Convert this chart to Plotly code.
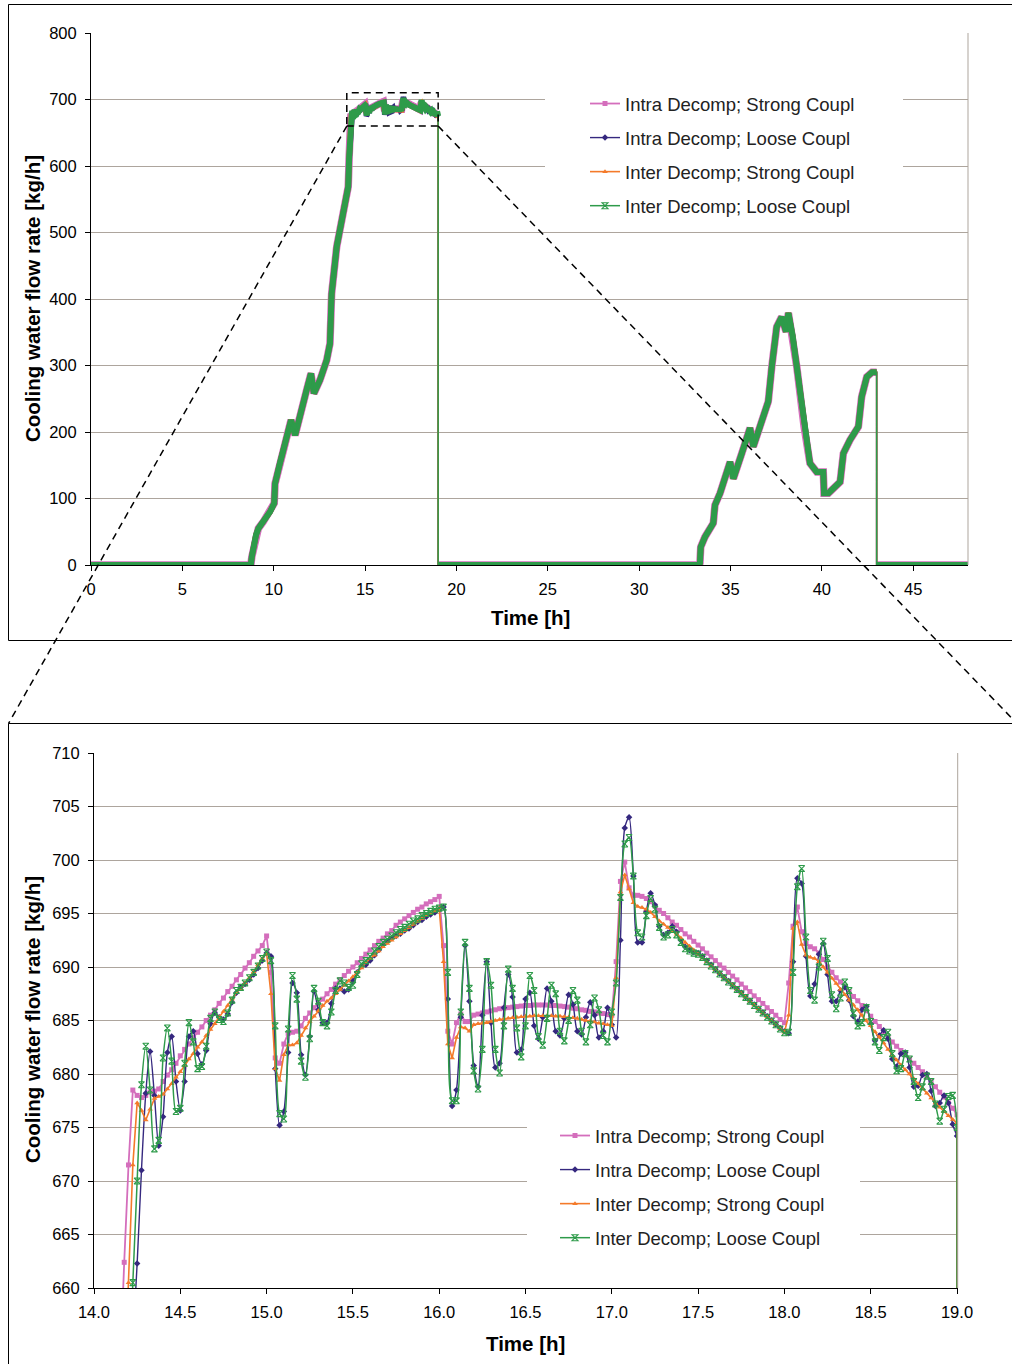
import plotly.graph_objects as go

W, H = 1012, 1364
FONT = "Liberation Sans, Arial, sans-serif"
GRID = "#ADA59D"

# ---------------- data ----------------
# detailed window 14.15 h .. 19.0 h, simulation output every DT hours
T0 = 14.15
DT = 0.025

INTRA_STRONG = [
    652.0, 662.4, 671.5, 678.5, 678.0, 677.8, 678.0, 678.3, 678.4, 678.6,
    679.3, 679.9, 680.4, 681.0, 681.7, 682.3, 682.8, 683.4, 683.9, 684.4,
    685.0, 685.5, 686.0, 686.6, 687.1, 687.7, 688.2, 688.8, 689.3, 689.9,
    690.4, 691.0, 691.5, 692.0, 692.9, 689.5, 681.5, 681.0, 682.8, 683.8,
    683.9, 684.0, 684.5, 685.2, 685.7, 686.2, 686.6, 687.0, 687.5, 687.9,
    688.4, 688.8, 689.2, 689.6, 690.0, 690.4, 690.8, 691.2, 691.6, 692.0,
    692.4, 692.7, 693.1, 693.4, 693.9, 694.2, 694.5, 694.8, 695.1, 695.4,
    695.6, 695.9, 696.1, 696.3, 696.6, 692.0, 684.0, 682.8, 684.8, 685.6,
    684.9, 684.9, 685.5, 685.6, 685.7, 685.8, 685.9, 686.0, 686.1, 686.15,
    686.2, 686.25, 686.3, 686.35, 686.4, 686.4, 686.45, 686.45, 686.45, 686.45,
    686.4, 686.4, 686.35, 686.3, 686.25, 686.15, 686.1, 686.0, 685.95, 685.85,
    685.8, 685.7, 685.65, 685.55, 685.5, 690.5, 698.0, 699.8, 697.4, 696.7,
    696.7, 696.6, 696.4, 696.1, 695.7, 695.3, 695.0, 694.6, 694.2, 693.9,
    693.5, 693.1, 692.8, 692.4, 692.05, 691.7, 691.3, 690.95, 690.6, 690.2,
    689.9, 689.5, 689.15, 688.8, 688.4, 688.05, 687.7, 687.3, 686.95, 686.6,
    686.2, 685.85, 685.5, 685.1, 684.8, 688.5, 693.8, 695.6, 693.3, 692.2,
    691.9, 691.7, 691.3, 690.7, 690.0, 689.5, 689.0, 688.6, 688.1, 687.7,
    687.25, 686.85, 686.4, 685.9, 685.4, 684.9, 684.45, 683.95, 683.45, 683.0,
    682.6, 682.2, 681.8, 681.4, 681.0, 680.6, 680.2, 679.75, 679.3, 678.8,
    678.3, 677.85, 677.3, 676.8, 676.2,
]

INTRA_LOOSE = [
    630.0, 640.0, 648.0, 655.0, 662.3, 671.0, 678.2, 682.1, 678.0, 673.3,
    676.0, 682.0, 683.5, 679.3, 676.6, 679.3, 683.5, 684.0, 681.9, 680.9,
    682.2, 684.7, 685.7, 685.3, 685.1, 685.6, 686.7, 687.6, 688.1, 688.4,
    688.8, 689.3, 689.9, 690.6, 691.3, 691.0, 680.5, 675.2, 676.5, 682.0,
    688.5, 687.6, 681.8, 679.9, 683.5, 687.7, 686.0, 684.8, 684.8, 686.6,
    688.0, 688.0, 687.7, 687.9, 688.7, 689.5, 690.1, 690.2, 690.6, 691.1,
    691.6, 692.1, 692.4, 692.7, 692.9, 693.1, 693.4, 693.6, 693.9, 694.2,
    694.4, 694.7, 694.9, 695.1, 695.4, 695.6, 687.0, 677.0, 678.5, 685.3,
    692.0, 686.8, 680.8, 678.8, 685.5, 690.5, 684.8, 680.6, 681.0, 686.2,
    689.3, 687.2, 682.0, 682.3, 687.0, 687.6, 684.5, 683.3, 685.3, 688.0,
    686.8, 684.0, 683.6, 685.2, 687.4, 686.5, 684.0, 683.7, 685.3, 686.7,
    685.5, 683.4, 684.0, 686.2, 684.6, 683.4, 692.5, 703.0, 704.0, 698.5,
    692.3, 692.3, 695.2, 696.9, 695.8, 693.8, 693.0, 693.2, 693.8, 693.3,
    692.5, 691.9, 691.6, 691.4, 691.3, 691.0, 690.6, 690.2, 689.8, 689.4,
    689.05, 688.7, 688.3, 687.95, 687.6, 687.2, 686.85, 686.5, 686.1, 685.75,
    685.4, 685.0, 684.65, 684.3, 684.0, 683.8, 690.5, 698.3, 697.8, 691.0,
    687.3, 688.4, 691.2, 692.2, 689.3, 686.8, 686.8, 687.8, 688.1, 686.9,
    685.4, 684.9, 686.0, 686.3, 684.7, 683.1, 683.6, 684.1, 683.3, 681.4,
    680.7, 681.9, 682.0, 680.6, 678.8, 678.9, 679.9, 680.0, 678.4, 677.0,
    677.3, 678.0, 677.3, 675.3, 674.2,
]

INTER_STRONG = [
    640.0, 650.0, 660.5, 671.5, 677.3, 676.6, 675.7, 676.7, 677.7, 677.9,
    678.1, 678.6, 679.1, 679.7, 680.2, 680.8, 681.4, 681.9, 682.5, 683.0,
    683.6, 684.15, 684.7, 685.3, 685.85, 686.4, 687.0, 687.6, 688.0, 688.5,
    689.0, 689.55, 690.2, 690.8, 691.3, 687.5, 680.5, 679.4, 681.8, 682.7,
    682.7, 682.9, 683.6, 684.3, 684.9, 685.4, 685.9, 686.4, 686.8, 687.1,
    687.5, 687.9, 688.3, 688.7, 689.1, 689.5, 689.9, 690.4, 690.8, 691.1,
    691.5, 691.9, 692.2, 692.5, 692.8, 693.1, 693.4, 693.7, 694.0, 694.25,
    694.5, 694.8, 695.0, 695.25, 695.5, 690.5, 682.8, 681.5, 683.4, 684.4,
    684.3, 684.0, 684.6, 684.7, 684.75, 684.8, 684.9, 685.0, 685.1, 685.15,
    685.2, 685.25, 685.3, 685.35, 685.4, 685.4, 685.45, 685.45, 685.45, 685.45,
    685.45, 685.4, 685.4, 685.35, 685.3, 685.25, 685.2, 685.1, 685.0, 684.95,
    684.85, 684.75, 684.7, 684.6, 684.5, 689.0, 697.0, 698.6, 697.3, 696.0,
    695.65, 695.55, 695.4, 695.1, 694.7, 694.3, 694.0, 693.7, 693.4, 693.05,
    692.7, 692.3, 691.95, 691.6, 691.2, 690.85, 690.5, 690.1, 689.75, 689.4,
    689.0, 688.65, 688.3, 687.9, 687.55, 687.2, 686.8, 686.45, 686.1, 685.7,
    685.35, 685.0, 684.6, 684.25, 683.9, 685.5, 693.6, 694.2, 692.1, 691.1,
    690.9, 690.8, 690.5, 690.0, 689.5, 688.95, 688.45, 687.9, 687.4, 686.9,
    686.45, 686.0, 685.5, 685.0, 684.5, 683.95, 683.45, 682.9, 682.3, 681.75,
    681.3, 680.85, 680.4, 680.0, 679.55, 679.1, 678.65, 678.2, 677.75, 677.3,
    676.9, 676.5, 676.1, 675.75, 675.4,
]

INTER_LOOSE = [
    635.0, 643.0, 651.0, 660.5, 670.0, 679.0, 682.6, 678.5, 673.0, 673.8,
    681.5, 684.3, 681.2, 676.5, 676.8, 681.0, 684.8, 683.0, 680.5, 680.7,
    682.6, 685.2, 685.8, 685.1, 684.9, 685.7, 686.9, 687.8, 688.1, 688.5,
    689.0, 689.5, 690.1, 690.8, 691.4, 690.6, 684.5, 676.3, 675.8, 684.2,
    689.2, 687.0, 681.2, 679.7, 683.3, 688.0, 686.8, 684.8, 684.5, 685.8,
    687.8, 688.7, 688.5, 688.1, 688.3, 689.3, 690.3, 690.6, 691.0, 691.5,
    691.9, 692.3, 692.6, 692.9, 693.2, 693.5, 693.7, 694.0, 694.3, 694.5,
    694.8, 695.0, 695.2, 695.4, 695.5, 695.6, 689.5, 677.5, 677.5, 685.8,
    692.3, 688.0, 680.3, 678.6, 682.3, 690.5, 688.3, 682.3, 680.1, 684.5,
    689.8, 688.0, 684.3, 681.6, 684.5, 689.2, 687.8, 683.5, 682.7, 685.2,
    688.3, 687.5, 684.0, 683.1, 685.0, 687.8, 686.9, 684.0, 683.0, 684.6,
    687.1, 686.0, 683.6, 683.0, 685.8, 688.5, 696.5, 701.5, 702.1, 698.5,
    693.2, 692.8, 694.8, 696.4, 695.4, 693.7, 692.8, 693.0, 693.5, 693.0,
    692.3, 691.7, 691.5, 691.3, 691.2, 690.9, 690.5, 690.1, 689.75, 689.35,
    689.0, 688.6, 688.25, 687.9, 687.5, 687.15, 686.8, 686.4, 686.05, 685.7,
    685.3, 684.95, 684.6, 684.2, 683.85, 683.9, 689.5, 697.5, 699.2, 692.8,
    687.8, 686.9, 690.0, 692.4, 690.8, 687.4, 686.1, 687.1, 688.6, 687.8,
    685.7, 684.5, 684.8, 686.2, 684.9, 683.0, 682.2, 683.4, 683.9, 681.9,
    680.3, 680.5, 681.9, 681.4, 679.3, 677.8, 678.8, 679.8, 679.3, 677.2,
    675.6, 676.7, 677.9, 678.0, 675.0,
]

# overview profile before the detailed window (all four runs coincide here)
OV1_T = [0.0, 8.75, 8.80, 8.88, 9.03, 9.16, 9.43, 9.80, 10.03, 10.07, 10.34, 10.71,
         10.95, 11.17, 11.44, 11.80, 12.04, 12.20, 12.53, 12.90, 13.08, 13.17, 13.45,
         13.81, 14.08, 14.125]
OV1_V = [0, 0, 12, 25, 45, 55, 65, 80, 93, 122, 153, 188,
         218, 195, 228, 263, 288, 258, 278, 308, 333, 408, 479,
         534, 569, 610]

# overview profile after the detailed window (shutdown at 19 h, second period)
OV2_T = [19.0, 33.25, 33.33, 33.37, 33.6, 34.06, 34.15, 34.43, 34.98, 35.16, 35.62,
         36.07, 36.25, 36.6, 37.07, 37.26, 37.53, 37.8, 38.04, 38.17, 38.4, 38.63,
         39.03, 39.35, 39.72, 40.08, 40.12, 40.36, 41.0, 41.18, 41.54, 42.0, 42.18,
         42.46, 42.75, 43.0, 43.0, 48.0]
OV2_V = [0, 0, 3, 27, 42, 63, 90, 108, 155, 130, 168,
         206, 178, 207, 246, 298, 358, 373, 351, 379, 345, 298,
         208, 153, 140, 140, 108, 108, 125, 168, 188, 208, 253,
         283, 290, 290, 0, 0]

NAMES = ["Intra Decomp; Strong Coupl", "Intra Decomp; Loose Coupl",
         "Inter Decomp; Strong Coupl", "Inter Decomp; Loose Coupl"]
SERIES = [INTRA_STRONG, INTRA_LOOSE, INTER_STRONG, INTER_LOOSE]

TOP_X_RANGE = [0, 48]
TOP_Y_RANGE = [0, 800]
BOT_X_RANGE = [14.0, 19.004]
BOT_Y_RANGE = [660, 710]
ZOOM_BOX = [14.0, 19.0, 660, 710]

# ---------------- styles ----------------
COLORS = ["#D46EBC", "#35287F", "#F47A2A", "#2E9B4A"]
MARKERS = [
    dict(symbol="square", size=5, color=COLORS[0]),
    dict(symbol="diamond", size=5, color=COLORS[1]),
    dict(symbol="triangle-up", size=5, color=COLORS[2]),
    dict(symbol="hourglass-open", size=6, color=COLORS[3], line=dict(width=1.1, color=COLORS[3])),
]
LINE_W = [1.8, 1.4, 1.6, 1.5]
LINE_SHAPE = ["linear", "spline", "linear", "spline"]
BAND_W = [7.5, 5.5, 5.5, 6.0]

T_DET = [round(T0 + DT * i, 4) for i in range(len(INTRA_STRONG))]
for s in SERIES:
    assert len(s) == len(T_DET), len(s)


def full(series):
    return OV1_T + T_DET + OV2_T, OV1_V + list(series) + OV2_V


def with_breaks(t, v):
    bt, bv = [], []
    for i in range(len(t)):
        if i > 0 and t[i] == t[i - 1] and abs(v[i] - v[i - 1]) > 100:
            bt.append(None)
            bv.append(None)
        bt.append(t[i])
        bv.append(v[i])
    return bt, bv


def px(x):
    return x / W


def py(y):
    return 1 - y / H


# plot-area pixel boxes
TOP_BOX = (91, 968, 33, 565)       # left, right, top, bottom
BOT_BOX = (94, 957.7, 753, 1288)

fig = go.Figure()

# ---- top overview chart ----
for k in range(4):
    t, v = full(SERIES[k])
    bt, bv = with_breaks(t, v)
    fig.add_trace(go.Scatter(x=bt, y=bv, mode="lines", connectgaps=False,
                             line=dict(color=COLORS[k], width=BAND_W[k]),
                             xaxis="x", yaxis="y", showlegend=False, hoverinfo="skip"))
    fig.add_trace(go.Scatter(x=t, y=v, mode="lines",
                             line=dict(color=COLORS[k], width=1.5),
                             xaxis="x", yaxis="y", showlegend=False, hoverinfo="skip"))
for k in range(4):
    fig.add_trace(go.Scatter(x=[None], y=[None], mode="lines+markers", name=NAMES[k],
                             line=dict(color=COLORS[k], width=LINE_W[k]), marker=MARKERS[k],
                             xaxis="x", yaxis="y", legend="legend", legendgroup=f"top{k}"))

# ---- bottom detail chart ----
for k in range(4):
    t, v = full(SERIES[k])
    bt, bv = with_breaks(t, v)
    fig.add_trace(go.Scatter(x=bt, y=bv, mode="lines+markers", name=NAMES[k],
                             connectgaps=False,
                             line=dict(color=COLORS[k], width=LINE_W[k],
                                       shape=LINE_SHAPE[k], smoothing=0.8),
                             marker=MARKERS[k],
                             xaxis="x2", yaxis="y2", legend="legend2", legendgroup=f"bot{k}"))
    # shutdown drop at the end of the window
    fig.add_trace(go.Scatter(x=[T_DET[-1], OV2_T[0]], y=[SERIES[k][-1], OV2_V[0]],
                             mode="lines", line=dict(color=COLORS[k], width=LINE_W[k]),
                             xaxis="x2", yaxis="y2", showlegend=False, hoverinfo="skip"))

AX = dict(showline=True, linecolor="black", linewidth=1, ticks="outside", ticklen=5,
          tickwidth=1, tickcolor="black", zeroline=False, fixedrange=True, automargin=False,
          tickfont=dict(family=FONT, size=16.5, color="black"))

bot_ticks = [14.0 + 0.5 * i for i in range(11)]
LEG_FONT = dict(family=FONT, size=18.5, color="#222222")

fig.update_layout(
    width=W, height=H, autosize=False,
    margin=dict(l=0, r=0, t=0, b=0, pad=0, autoexpand=False),
    paper_bgcolor="white", plot_bgcolor="white",
    font=dict(family=FONT, size=16, color="black"),
    xaxis=dict(**AX, domain=[px(TOP_BOX[0]), px(TOP_BOX[1])], range=TOP_X_RANGE,
               tick0=0, dtick=5, showgrid=False, anchor="y", layer="below traces",
               ticklabelstandoff=4),
    yaxis=dict(**AX, domain=[py(TOP_BOX[3]), py(TOP_BOX[2])], range=TOP_Y_RANGE,
               tick0=0, dtick=100, showgrid=True, gridcolor=GRID, gridwidth=1,
               anchor="x", ticklabelstandoff=5),
    xaxis2=dict(**AX, domain=[px(BOT_BOX[0]), px(BOT_BOX[1])], range=BOT_X_RANGE,
                tickvals=bot_ticks, ticktext=[f"{v:.1f}" for v in bot_ticks],
                showgrid=False, anchor="y2", layer="below traces", ticklabelstandoff=4),
    yaxis2=dict(**AX, domain=[py(BOT_BOX[3]), py(BOT_BOX[2])], range=BOT_Y_RANGE,
                tick0=660, dtick=5, showgrid=True, gridcolor=GRID, gridwidth=1,
                anchor="x2", ticklabelstandoff=5),
    legend=dict(x=px(585), y=py(85), xanchor="left", yanchor="top", bgcolor="white",
                borderwidth=0, tracegroupgap=7, itemwidth=30, font=LEG_FONT),
    legend2=dict(x=px(555), y=py(1117), xanchor="left", yanchor="top", bgcolor="white",
                 borderwidth=0, tracegroupgap=7, itemwidth=30, font=LEG_FONT),
    showlegend=True,
)


def top_data_to_paper(t, v):
    x0, x1, yt, yb = TOP_BOX
    xp = x0 + (t - TOP_X_RANGE[0]) / (TOP_X_RANGE[1] - TOP_X_RANGE[0]) * (x1 - x0)
    yp = yb - (v - TOP_Y_RANGE[0]) / (TOP_Y_RANGE[1] - TOP_Y_RANGE[0]) * (yb - yt)
    return xp, yp


def top_px_to_data(xp, yp):
    x0, x1, yt, yb = TOP_BOX
    t = TOP_X_RANGE[0] + (xp - x0) / (x1 - x0) * (TOP_X_RANGE[1] - TOP_X_RANGE[0])
    v = TOP_Y_RANGE[0] + (yb - yp) / (yb - yt) * (TOP_Y_RANGE[1] - TOP_Y_RANGE[0])
    return t, v


def bot_px_to_data(xp, yp):
    x0, x1, yt, yb = BOT_BOX
    t = BOT_X_RANGE[0] + (xp - x0) / (x1 - x0) * (BOT_X_RANGE[1] - BOT_X_RANGE[0])
    v = BOT_Y_RANGE[0] + (yb - yp) / (yb - yt) * (BOT_Y_RANGE[1] - BOT_Y_RANGE[0])
    return t, v


shapes = []
# white boxes behind the legends (hide gridlines, below traces)
a = top_px_to_data(545, 84)
b = top_px_to_data(903, 226)
shapes.append(dict(type="rect", xref="x", yref="y", x0=a[0], y0=b[1], x1=b[0], y1=a[1],
                   fillcolor="white", line=dict(width=0), layer="between"))
a = bot_px_to_data(527, 1110)
b = bot_px_to_data(860, 1262)
shapes.append(dict(type="rect", xref="x2", yref="y2", x0=a[0], y0=b[1], x1=b[0], y1=a[1],
                   fillcolor="white", line=dict(width=0), layer="between"))

# right borders of plot areas
for (l, r, t_, b_) in (TOP_BOX, BOT_BOX):
    shapes.append(dict(type="line", xref="paper", yref="paper", x0=px(r), x1=px(r),
                       y0=py(t_), y1=py(b_), line=dict(color=GRID, width=1)))

# chart-area frames
shapes.append(dict(type="rect", xref="paper", yref="paper", x0=px(8.5), x1=px(1018),
                   y0=py(640.5), y1=py(4.5), line=dict(color="black", width=1)))
shapes.append(dict(type="rect", xref="paper", yref="paper", x0=px(8.5), x1=px(1018),
                   y0=py(1372), y1=py(723.5), line=dict(color="black", width=1)))

# zoom box and connecting dashed lines
DASH = "7px,5px"
shapes.append(dict(type="rect", xref="x", yref="y", x0=ZOOM_BOX[0], x1=ZOOM_BOX[1],
                   y0=ZOOM_BOX[2], y1=ZOOM_BOX[3], line=dict(color="black", width=1.5, dash=DASH)))
bl = top_data_to_paper(ZOOM_BOX[0], ZOOM_BOX[2])
br = top_data_to_paper(ZOOM_BOX[1], ZOOM_BOX[2])
shapes.append(dict(type="line", xref="paper", yref="paper", x0=px(bl[0]), y0=py(bl[1]),
                   x1=px(8.5), y1=py(723.5), line=dict(color="black", width=1.5, dash=DASH)))
shapes.append(dict(type="line", xref="paper", yref="paper", x0=px(br[0]), y0=py(br[1]),
                   x1=px(1017), y1=py(723.5), line=dict(color="black", width=1.5, dash=DASH)))

fig.update_layout(shapes=shapes)

TITLE_FONT = dict(family=FONT, size=20.5, color="black")
ann = [
    dict(text="<b>Cooling water flow rate [kg/h]</b>", x=px(32), y=py(299), textangle=-90),
    dict(text="<b>Time [h]</b>", x=px(530), y=py(617)),
    dict(text="<b>Cooling water flow rate [kg/h]</b>", x=px(32), y=py(1020), textangle=-90),
    dict(text="<b>Time [h]</b>", x=px(525), y=py(1343)),
]
for a_ in ann:
    a_.update(xref="paper", yref="paper", showarrow=False, xanchor="center",
              yanchor="middle", font=TITLE_FONT)
fig.update_layout(annotations=ann)

fig.write_html("out.html")
